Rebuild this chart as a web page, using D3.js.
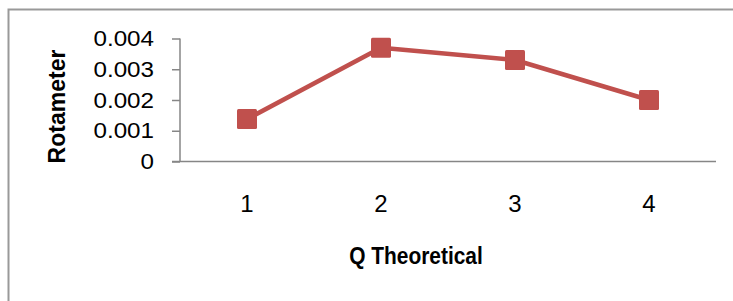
<!DOCTYPE html>
<html>
<head>
<meta charset="utf-8">
<script src="https://cdn.jsdelivr.net/npm/d3@7"></script>
<style>
  body { margin: 0; background: #fff; }
  svg { display: block; font-family: "Liberation Sans", Arial, sans-serif; }
</style>
</head>
<body>
<svg id="chart" width="733" height="301"></svg>
<script>
// datos
var categorias = ["1", "2", "3", "4"];
var valores = [0.00138, 0.0037, 0.0033, 0.002];
var yTicks = [0, 0.001, 0.002, 0.003, 0.004];

var svg = d3.select("#chart"),
    margin = {top: 38.5, left: 180, right: 17, bottom: 139.5},
    width = +svg.attr("width") - margin.left - margin.right,
    height = +svg.attr("height") - margin.top - margin.bottom;

// marco del area del grafico (solo se ve arriba e izquierda)
svg.append("rect")
    .attr("x", 8.5).attr("y", 9.5)
    .attr("width", 740).attr("height", 320)
    .attr("fill", "none")
    .attr("stroke", "#999")
    .attr("stroke-width", 2);

var g = svg.append("g")
    .attr("transform", "translate(" + margin.left + "," + margin.top + ")");

var x = d3.scaleBand()
    .domain(categorias)
    .range([0, width]);

var y = d3.scaleLinear()
    .domain([0, 0.004])
    .range([height, 0]);

// eje y
var sx = 1.1; // el texto original es algo mas ancho
var yAxis = g.append("g")
    .call(d3.axisLeft(y)
        .tickValues(yTicks)
        .tickSize(8)
        .tickPadding(18)
        .tickFormat(function(d) { return d === 0 ? "0" : d3.format(".3f")(d); }));
yAxis.select(".domain").attr("stroke", "#868686").attr("stroke-width", 1.5)
    .attr("d", "M0," + y(0.004) + "H0V" + y(0));
yAxis.selectAll(".tick line").attr("stroke", "#868686").attr("stroke-width", 1.5);
yAxis.selectAll("text")
    .attr("font-size", 22)
    .attr("fill", "#000")
    .attr("font-family", "'Liberation Sans', Arial, sans-serif")
    .attr("x", -26 / sx)
    .attr("transform", "scale(" + sx + ",1)");

// eje x
var xAxis = g.append("g")
    .attr("transform", "translate(0," + height + ")")
    .call(d3.axisBottom(x).tickSize(0).tickPadding(33.5));
xAxis.select(".domain").attr("stroke", "#868686").attr("stroke-width", 1.5)
    .attr("d", "M-8,0H" + width);
xAxis.selectAll("text")
    .attr("font-size", 24)
    .attr("fill", "#000")
    .attr("font-family", "'Liberation Sans', Arial, sans-serif");

// linea
var linea = d3.line()
    .x(function(d, i) { return x(categorias[i]) + x.bandwidth() / 2; })
    .y(function(d) { return y(d); });

g.append("path")
    .datum(valores)
    .attr("d", linea)
    .attr("fill", "none")
    .attr("stroke", "#C0504D")
    .attr("stroke-width", 4.5)
    .attr("stroke-linejoin", "round");

// marcadores cuadrados
var s = 20;
g.selectAll(".marca")
  .data(valores)
  .enter().append("rect")
    .attr("class", "marca")
    .attr("x", function(d, i) { return x(categorias[i]) + x.bandwidth() / 2 - s / 2; })
    .attr("y", function(d) { return y(d) - s / 2; })
    .attr("width", s)
    .attr("height", s)
    .attr("rx", 1.5)
    .attr("fill", "#C0504D");

// titulos de ejes (letra condensada como en el original)
svg.append("text")
    .attr("transform", "translate(416,264) scale(0.91,1)")
    .attr("text-anchor", "middle")
    .attr("font-size", 23)
    .attr("font-weight", "bold")
    .text("Q Theoretical");

svg.append("text")
    .attr("transform", "translate(65,106.5) rotate(-90)")
    .attr("text-anchor", "middle")
    .attr("font-size", 23)
    .attr("font-weight", "bold")
    .text("Rotameter");
</script>
</body>
</html>
